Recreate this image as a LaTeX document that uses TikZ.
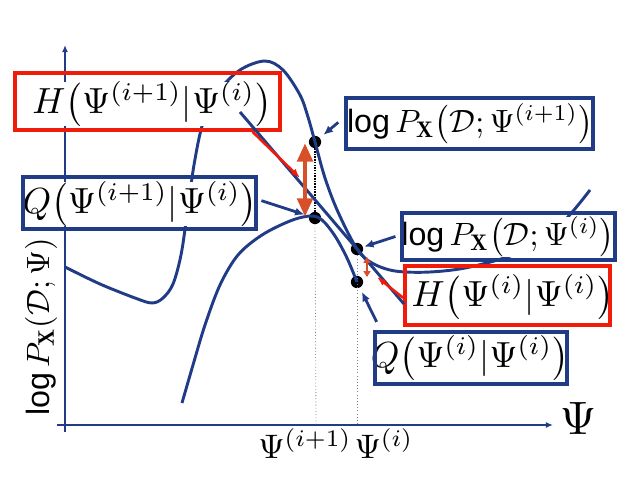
\documentclass[tikz,border=0pt]{standalone}
\usepackage{fontspec}
\newfontfamily\logfont{Liberation Sans}
\usetikzlibrary{arrows.meta}

\definecolor{curveblue}{RGB}{33,60,135}
\definecolor{boxred}{RGB}{240,28,10}
\definecolor{gaporange}{RGB}{216,80,42}

\newcommand{\logtxt}{\mbox{\logfont log}\,}
\newcommand{\eqn}[2][3.1]{\scalebox{#1}{$#2$}}

\tikzset{
  curve/.style={curveblue,line width=2.5pt},
  axis/.style={curveblue,line width=2.4pt,-{Latex[length=6pt,width=5pt]}},
  eqtext/.style={fill=white,inner sep=0pt},
  bluebox/.style={draw=curveblue,line width=3.2pt,inner sep=0pt},
  redbox/.style={draw=boxred,line width=3.2pt,inner sep=0pt},
  pointer/.style={curveblue,line width=2.4pt,-{Latex[length=8pt,width=7pt]}},
  redpointer/.style={boxred,line width=2.2pt,-{Latex[length=8pt,width=6pt]}},
  dot/.style={circle,fill=black,inner sep=0pt,minimum size=10.5pt},
  gap/.style={gaporange,line width=4.2pt,{Triangle[length=16pt,width=13pt]}-{Triangle[length=16pt,width=13pt]}},
  smallgap/.style={gaporange,line width=2pt,{Triangle[length=5pt,width=6pt]}-{Triangle[length=5pt,width=6pt]}},
  tick/.style={gray,line width=0.7pt,dotted}
}

\begin{document}
\begin{tikzpicture}[x=0.03cm,y=-0.03cm]
  \def\px{0.03cm}
  \useasboundingbox (0,0) rectangle (633,484);

  % Axes
  \draw[axis] (65,432) -- (65,45);
  \draw[axis] (57,425) -- (553,425);
  \node[anchor=base] (psi) at (578,435) {\eqn[4]{\Psi}};
  \node[rotate=90] (ylab) at (41,327) {\eqn[2.75]{\logtxt P_{\mathbf{X}}(\mathcal{D};\Psi)}};

  % Points on the curves
  \node[dot] (p1) at (315,142) {};
  \node[dot] (q1) at (315,218) {};
  \node[dot] (p0) at (357,249) {};
  \node[dot] (q0) at (357,282) {};
  \coordinate (tnext) at (316,425);
  \coordinate (tcur) at (357,425);

  % Drop lines
  \draw[black,line width=1.3pt,densely dotted] (p1) -- (q1);
  \draw[tick] (q1) -- (tnext);
  \draw[tick] (p0) -- (tcur);
  \node[anchor=base] (lnext) at (305,459) {\eqn[2.9]{\Psi^{(i+1)}}};
  \node[anchor=base] (lcur) at (384,459) {\eqn[2.9]{\Psi^{(i)}}};

  % log-likelihood curve
  \draw[curve] plot[smooth,tension=0.55] coordinates {(65,267) (100,284) (135,298) (152,303) (163,298) (173,284) (181,255) (187,215) (194,165) (203,123) (218,92) (240,70) (265,61) (283,70) (300,95) (308,117) (315,142) (325,178) (338,212) (357,249) (372,263) (395,271) (430,272) (470,267) (520,252) (560,225) (590,190)};
  % lower bound curve
  \draw[curve] plot[smooth,tension=0.55] coordinates {(182,403) (193,365) (205,325) (220,285) (238,255) (262,235) (290,221) (310,216) (322,220) (335,236) (347,258) (357,282)};

  % Box texts
  \node[eqtext] (Hnext-t) at (152,104) {\eqn{H\bigl(\Psi^{(i+1)}|\Psi^{(i)}\bigr)}};
  \node[eqtext] (Pnext-t) at (470,124) {\eqn[2.75]{\logtxt P_{\mathbf{X}}\bigl(\mathcal{D};\Psi^{(i+1)}\bigr)}};
  \node[eqtext] (Qnext-t) at (140,204) {\eqn{Q\bigl(\Psi^{(i+1)}|\Psi^{(i)}\bigr)}};
  \node[eqtext] (Pcur-t) at (508,237) {\eqn[2.75]{\logtxt P_{\mathbf{X}}\bigl(\mathcal{D};\Psi^{(i)}\bigr)}};
  \node[eqtext] (Hcur-t) at (513,297) {\eqn{H\bigl(\Psi^{(i)}|\Psi^{(i)}\bigr)}};
  \node[eqtext] (Qcur-t) at (470,358) {\eqn{Q\bigl(\Psi^{(i)}|\Psi^{(i)}\bigr)}};

  % Boxes
  \node[redbox,minimum width=265*\px,minimum height=57*\px] (Hnext) at (147.5,101.5) {};
  \node[bluebox,minimum width=247*\px,minimum height=51*\px] (Pnext) at (469.5,123.5) {};
  \node[bluebox,minimum width=233*\px,minimum height=52*\px] (Qnext) at (139.5,203) {};
  \node[bluebox,minimum width=213*\px,minimum height=47*\px] (Pcur) at (508.5,236.5) {};
  \node[redbox,minimum width=205*\px,minimum height=59*\px] (Hcur) at (507.5,295.5) {};
  \node[bluebox,minimum width=192*\px,minimum height=52*\px] (Qcur) at (471,358) {};

  % tangent line
  \draw[curve] (240,112) -- (404,304);

  % Pointers
  \coordinate (hntip) at (300,178);
  \coordinate (hctip) at (377,277);
  \draw[redpointer] ([xshift=-25pt]Hnext.south east) -- (hntip);
  \draw[pointer,shorten >=4pt] ([xshift=-5pt,yshift=1pt]Pnext.west) -- (p1);
  \draw[pointer,shorten >=4pt] ([xshift=3pt,yshift=2pt]Qnext.east) -- (q1);
  \draw[pointer,shorten >=1pt] ([xshift=-4pt]Pcur.west) -- (p0);
  \draw[redpointer] ([yshift=-2pt]Hcur.west) -- (hctip);
  \draw[pointer,shorten >=4pt] ([xshift=3pt,yshift=7pt]Qcur.north west) -- (q0);

  % Gaps
  \coordinate (gtop) at (305,143);
  \coordinate (gbot) at (305,217);
  \draw[gap] (gtop) -- (gbot);
  \coordinate (stop) at (367,257);
  \coordinate (sbot) at (367,277);
  \draw[smallgap] (stop) -- (sbot);
\end{tikzpicture}
\end{document}
